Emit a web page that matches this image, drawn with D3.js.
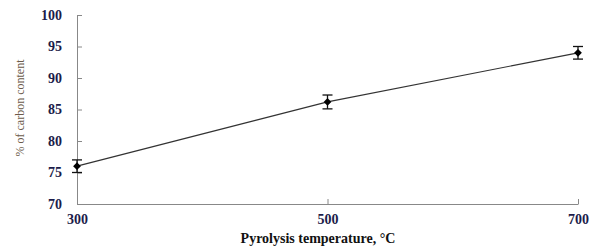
<!DOCTYPE html>
<html>
<head>
<meta charset="utf-8">
<script src="https://cdn.jsdelivr.net/npm/d3@7"></script>
<style>
  body { margin: 0; background: #fff; }
  svg { display: block; }
</style>
</head>
<body>
<svg id="chart" width="595" height="250"></svg>
<script>
const temperatures = [300, 500, 700];
const carbonContent = [76.0, 86.2, 94.0];
const errors = [1.0, 1.1, 1.0];
const xTicks = [300, 500, 700];
const yTicks = [70, 75, 80, 85, 90, 95, 100];

const svg = d3.select("#chart");

const x = d3.scaleLinear()
    .domain([300, 700])
    .range([77, 578]);

const y = d3.scaleLinear()
    .domain([70, 100])
    .range([204, 15]);

const labelColor = "#1c1c4a";

// x axis, ticks pointing up
const xAxis = svg.append("g")
    .attr("transform", `translate(0, ${y(70)})`)
    .call(d3.axisBottom(x).tickValues(xTicks).tickSizeInner(-5).tickSizeOuter(0));
xAxis.select(".domain").attr("stroke", "#888");
xAxis.selectAll(".tick line").attr("stroke", "#888");
xAxis.selectAll(".tick text")
    .attr("y", 10)
    .attr("dy", "0.71em")
    .attr("font-family", "Liberation Serif, serif")
    .attr("font-size", 14)
    .attr("font-weight", "bold")
    .attr("fill", labelColor);

// y axis, ticks pointing right
const yAxis = svg.append("g")
    .attr("transform", `translate(${x(300)}, 0)`)
    .call(d3.axisLeft(y).tickValues(yTicks).tickSizeInner(-5).tickSizeOuter(0));
yAxis.select(".domain").attr("stroke", "#888");
yAxis.selectAll(".tick line").attr("stroke", "#888");
yAxis.selectAll(".tick text")
    .attr("x", -15)
    .attr("font-family", "Liberation Serif, serif")
    .attr("font-size", 14)
    .attr("font-weight", "bold")
    .attr("fill", labelColor);

const points = temperatures.map((t, i) => ({t: t, v: carbonContent[i], e: errors[i]}));

// line
svg.append("path")
    .datum(points)
    .attr("fill", "none")
    .attr("stroke", "#333")
    .attr("stroke-width", 1.2)
    .attr("d", d3.line().x(d => x(d.t)).y(d => y(d.v)));

// error bars
const eb = svg.append("g").attr("stroke", "#111").attr("stroke-width", 1.3);
eb.selectAll("line.v")
    .data(points)
    .enter()
    .append("line")
    .attr("x1", d => x(d.t)).attr("x2", d => x(d.t))
    .attr("y1", d => y(d.v + d.e)).attr("y2", d => y(d.v - d.e));
[1, -1].forEach(s => {
    eb.selectAll(null)
        .data(points)
        .enter()
        .append("line")
        .attr("x1", d => x(d.t) - 5).attr("x2", d => x(d.t) + 5)
        .attr("y1", d => y(d.v + s * d.e)).attr("y2", d => y(d.v + s * d.e));
});

// diamond markers
svg.append("g").selectAll("path")
    .data(points)
    .enter()
    .append("path")
    .attr("transform", d => `translate(${x(d.t)}, ${y(d.v)}) rotate(45)`)
    .attr("d", d3.symbol().type(d3.symbolSquare).size(30))
    .attr("fill", "#000");

// axis titles
svg.append("text")
    .attr("x", 318)
    .attr("y", 243)
    .attr("text-anchor", "middle")
    .attr("font-family", "Liberation Serif, serif")
    .attr("font-size", 14)
    .attr("font-weight", "bold")
    .attr("fill", "#111")
    .text("Pyrolysis temperature, °C");

svg.append("text")
    .attr("transform", "translate(24, 108) rotate(-90)")
    .attr("text-anchor", "middle")
    .attr("font-family", "Liberation Serif, serif")
    .attr("font-size", 12)
    .attr("fill", "#6b5a4a")
    .text("% of carbon content");
</script>
</body>
</html>
